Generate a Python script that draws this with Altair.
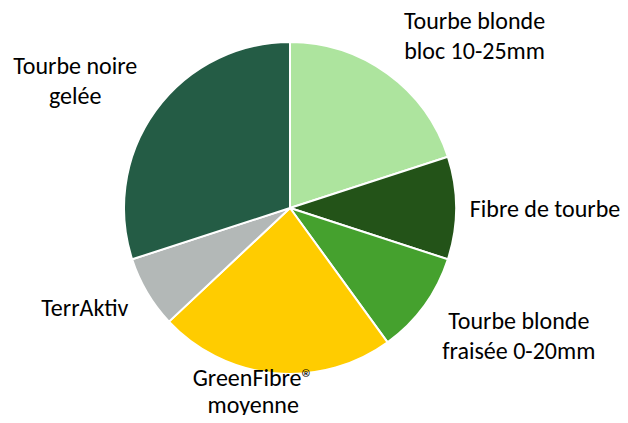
import altair as alt
import pandas as pd

categories = ["Tourbe blonde bloc 10-25mm", "Fibre de tourbe", "Tourbe blonde fraisée 0-20mm",
              "GreenFibre® moyenne", "TerrAktiv", "Tourbe noire gelée"]
labels = ["Tourbe blonde\nbloc 10-25mm", "Fibre de tourbe", "Tourbe blonde\nfraisée 0-20mm",
          "GreenFibre®\nmoyenne", "TerrAktiv", "Tourbe noire\ngelée"]
values = [20, 10, 10, 23, 7, 30]
colors = ["#ADE49E", "#235318", "#45A12E", "#FFCC00", "#B3B8B7", "#245C45"]

df = pd.DataFrame({"cat": categories, "label": labels, "value": values,
                   "order": list(range(len(values)))})

CX, CY, R = 282, 200, 166
FONT = "Carlito, Lato, sans-serif"

base = alt.Chart(df)

pie = base.mark_arc(outerRadius=R, stroke="white", strokeWidth=2).encode(
    theta=alt.Theta("value:Q", stack=True),
    order=alt.Order("order:Q"),
    color=alt.Color("cat:N", scale=alt.Scale(domain=categories, range=colors), legend=None),
    x=alt.value(CX), y=alt.value(CY),
)

# (dx, dy, lineHeight) per label
label_style = [(67, -24, 30), (55, 2, 30), (67, -4, 30), (-18, -28, 27), (-33, -1, 30), (-53, -23, 30)]

text_layers = []
for cat, (dx, dy, lh) in zip(categories, label_style):
    t = base.transform_window(
        cum="sum(value)", sort=[alt.SortField("order")]
    ).transform_calculate(
        mid="datum.cum - datum.value / 2"
    ).transform_filter(
        alt.datum.cat == cat
    ).mark_text(
        font=FONT, fontSize=24, color="#000000", align="center", baseline="middle",
        lineBreak="\n", lineHeight=lh, dx=dx, dy=dy
    ).encode(
        theta=alt.Theta("mid:Q", stack=None, scale=alt.Scale(domain=[0, 100])),
        radius=alt.value(200),
        x=alt.value(CX), y=alt.value(CY),
        text="label:N",
    )
    text_layers.append(t)

chart = alt.layer(pie, *text_layers).properties(
    width=612, height=407, padding=0, autosize=alt.AutoSizeParams(type="none")
).configure_view(stroke=None)

chart.save("out.html", embed_options={"renderer": "svg", "actions": False})
